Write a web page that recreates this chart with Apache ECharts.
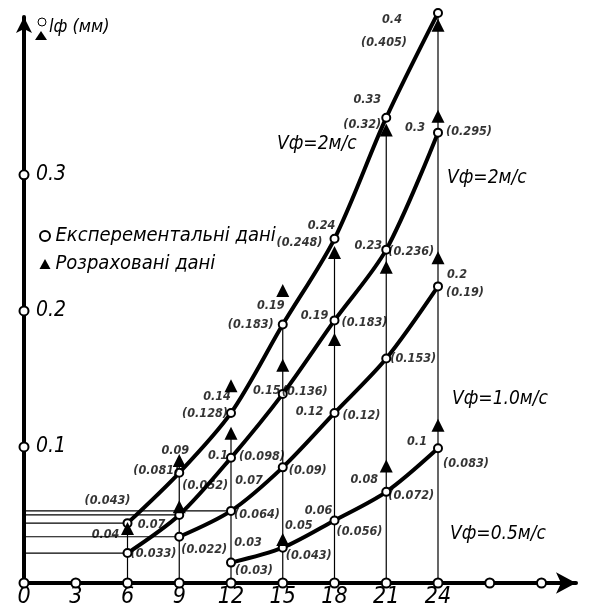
<!DOCTYPE html>
<html>
<head>
<meta charset="utf-8">
<script src="https://cdn.jsdelivr.net/npm/echarts@6/dist/echarts.min.js"></script>
<style>html,body{margin:0;padding:0;background:#fff}#c{width:593px;height:609px}</style>
</head>
<body>
<div id="c"></div>
<script>
// ---- data ----
const xTickValues = [0, 3, 6, 9, 12, 15, 18, 21, 24, 27, 30];
const yTickValues = [0.1, 0.2, 0.3];

// curve A (Vф=2м/с, upper)
const xA = [6, 9, 12, 15, 18, 21, 24];
const expA = [0.044, 0.081, 0.125, 0.190, 0.253, 0.342, 0.419];
const calcA = [0.040, 0.090, 0.145, 0.215, 0.243, 0.333, 0.410];
const printedCalcA = ['0.04', '0.09', '0.14', '0.19', '0.24', '0.33', '0.4'];
const printedExpA = ['0.043', '0.081', '0.128', '0.183', '0.248', '0.32', '0.405'];

// curve B (Vф=2м/с, lower)
const xB = [6, 9, 12, 15, 18, 21, 24];
const expB = [0.022, 0.050, 0.092, 0.139, 0.193, 0.245, 0.331];
const calcB = [null, 0.056, 0.110, 0.160, 0.179, 0.232, 0.343];
const printedCalcB = ['0.07', null, '0.1', '0.15', '0.19', '0.23', '0.3'];
const printedExpB = ['0.033', '0.052', '0.098', '0.136', '0.183', '0.236', '0.295'];

// curve C (Vф=1.0м/с)
const xC = [9, 12, 15, 18, 21, 24];
const expC = [0.034, 0.053, 0.085, 0.125, 0.165, 0.218];
const calcC = [null, null, null, null, null, 0.239];
const printedCalcC = [null, '0.07', null, '0.12', null, '0.2'];
const printedExpC = ['0.022', '0.064', '0.09', '0.12', '0.153', '0.19'];

// curve D (Vф=0.5м/с)
const xD = [12, 15, 18, 21, 24];
const expD = [0.015, 0.026, 0.046, 0.067, 0.099];
const calcD = [null, 0.032, null, 0.086, 0.116];
const printedCalcD = ['0.03', '0.05', '0.06', '0.08', '0.1'];
const printedExpD = ['0.03', '0.043', '0.056', '0.072', '0.083'];

const curveNames = ['Vф=2м/с', 'Vф=2м/с', 'Vф=1.0м/с', 'Vф=0.5м/с'];
const guideX = [6, 9, 12, 15, 18, 21, 24];
const guideTop = [0.044, 0.090, 0.110, 0.190, 0.243, 0.333, 0.419];
const hGuideRefs = [['C', 12], ['B', 9], ['A', 6], ['C', 9], ['B', 6]];

const expName = 'Експерементальні дані';
const calcName = 'Розраховані дані';
const yTitle = 'lф (мм)';

// ---- layout (label offsets in px) ----
const layout = {
  A: { calc: [[-22,12],[-4,-22],[-14,-16],[-12,-19],[-13,-13],[-19,-18],[-46,7]],
       exp: [[-20,-22],[-23,-2],[-26,1],[-32,0],[-35,4],[-24,7],[-54,30]] },
  B: { calc: [[24,-28],null,[-13,-2],[-16,-3],[-20,-5],[-18,-4],[-23,-5]],
       exp: [[26,1],[26,-29],[31,-1],[22,-2],[30,2],[25,2],[31,-1]] },
  C: { calc: [null,[18,-30],null,[-25,-1],null,[19,-12]],
       exp: [[25,13],[26,4],[25,3],[27,3],[27,0],[27,6]] },
  D: { calc: [[17,-20],[16,-22],[-16,-10],[-22,-12],[-21,-7]],
       exp: [[23,8],[26,8],[25,11],[25,4],[28,15]] }
};
const curveLabelPos = [[277,147],[447,181],[452,402],[450,537]];

const FS = "'DejaVu Sans Condensed','DejaVu Sans',sans-serif";
const FN = "'Liberation Sans Narrow','DejaVu Sans Condensed',sans-serif";

const curves = {
  A: { x: xA, exp: expA, calc: calcA, pc: printedCalcA, pe: printedExpA },
  B: { x: xB, exp: expB, calc: calcB, pc: printedCalcB, pe: printedExpB },
  C: { x: xC, exp: expC, calc: calcC, pc: printedCalcC, pe: printedExpC },
  D: { x: xD, exp: expD, calc: calcD, pc: printedCalcD, pe: printedExpD }
};

const series = [];
// vertical guides
guideX.forEach((gx, i) => {
  series.push({ type: 'line', silent: true, symbol: 'none', clip: false, z: 1,
    lineStyle: { color: '#000', width: 1.2 }, data: [[gx, 0], [gx, guideTop[i]]] });
});
// horizontal guides
hGuideRefs.forEach(([k, gx]) => {
  const c = curves[k];
  const v = c.exp[c.x.indexOf(gx)];
  series.push({ type: 'line', silent: true, symbol: 'none', clip: false, z: 1,
    lineStyle: { color: '#000', width: 1.2 }, data: [[0, v], [gx, v]] });
});
// curves + markers + labels
Object.keys(curves).forEach((k) => {
  const c = curves[k];
  series.push({ name: expName, type: 'line', smooth: 0.3, clip: false, z: 3,
    symbol: 'emptyCircle', symbolSize: 8,
    itemStyle: { color: '#000', borderColor: '#000', borderWidth: 1, opacity: 1 },
    lineStyle: { color: '#000', width: 4 },
    data: c.x.map((x, i) => [x, c.exp[i]]) });
  const tri = [];
  c.x.forEach((x, i) => { if (c.calc[i] != null) tri.push([x, c.calc[i]]); });
  series.push({ name: calcName, type: 'scatter', symbol: 'triangle', symbolSize: 13, clip: false, z: 4,
    itemStyle: { color: '#000', opacity: 1 }, data: tri });
  const lab = [];
  c.x.forEach((x, i) => {
    if (c.pc[i] != null) lab.push({ value: [x, c.exp[i]], label: { formatter: c.pc[i], offset: layout[k].calc[i] } });
    if (c.pe[i] != null) lab.push({ value: [x, c.exp[i]], label: { formatter: '(' + c.pe[i] + ')', offset: layout[k].exp[i] } });
  });
  series.push({ type: 'scatter', symbolSize: 0, silent: true, clip: false, z: 5,
    label: { show: true, position: 'inside', align: 'center', verticalAlign: 'middle',
      color: '#000', fontFamily: FS, fontStyle: 'italic', fontWeight: 'bold', fontSize: 12.5 },
    data: lab });
});
// tick circles
series.push({ type: 'scatter', symbol: 'emptyCircle', symbolSize: 9, clip: false, z: 6, silent: true,
  itemStyle: { color: '#000', borderColor: '#000', borderWidth: 1.2, opacity: 1 },
  data: xTickValues.map(v => [v, 0]).concat(yTickValues.map(v => [0, v])) });

const graphic = curveNames.map((t, i) => ({
  type: 'text', left: curveLabelPos[i][0], top: curveLabelPos[i][1] - 12,
  style: { text: t, fill: '#000', font: 'italic 19px ' + FS }
}));
graphic.push({ type: 'circle', shape: { cx: 42, cy: 22, r: 4 }, style: { fill: '#fff', stroke: '#000', lineWidth: 1 } });
graphic.push({ type: 'polygon', shape: { points: [[41, 31], [35, 40], [47, 40]] }, style: { fill: '#000' } });
graphic.push({ type: 'text', left: 49, top: 18, style: { text: yTitle, fill: '#000', font: 'italic 18px ' + FN } });

const chart = echarts.init(document.getElementById('c'), null, { renderer: 'canvas' });
chart.setOption({
  animation: false,
  backgroundColor: '#fff',
  grid: { left: 24, right: 17, top: 17, bottom: 24 },
  legend: {
    left: 34, top: 221, orient: 'vertical', itemGap: 8, itemWidth: 11, itemHeight: 10,
    textStyle: { color: '#000', fontFamily: FN, fontStyle: 'italic', fontSize: 20 },
    data: [{ name: expName, icon: 'emptyCircle' }, { name: calcName, icon: 'triangle' }]
  },
  xAxis: {
    type: 'value', min: 0, max: 32, interval: 3,
    axisLine: { lineStyle: { color: '#000', width: 4 }, symbol: ['none', 'arrow'], symbolSize: [16, 20] },
    axisTick: { show: false }, splitLine: { show: false },
    axisLabel: { color: '#000', fontFamily: FN, fontStyle: 'italic', fontSize: 23, margin: 3,
      formatter: v => (v <= 24 ? String(v) : '') }
  },
  yAxis: {
    type: 'value', min: 0, max: 0.416, interval: 0.1,
    axisLine: { lineStyle: { color: '#000', width: 4 }, symbol: ['none', 'arrow'], symbolSize: [12, 16] },
    axisTick: { show: false }, splitLine: { show: false },
    axisLabel: { inside: true, margin: 12, color: '#000', fontFamily: FN, fontStyle: 'italic', fontSize: 21,
      formatter: v => (yTickValues.some(t => Math.abs(t - v) < 1e-6) ? v.toFixed(1) : '') }
  },
  graphic: graphic,
  series: series
});
</script>
</body>
</html>
